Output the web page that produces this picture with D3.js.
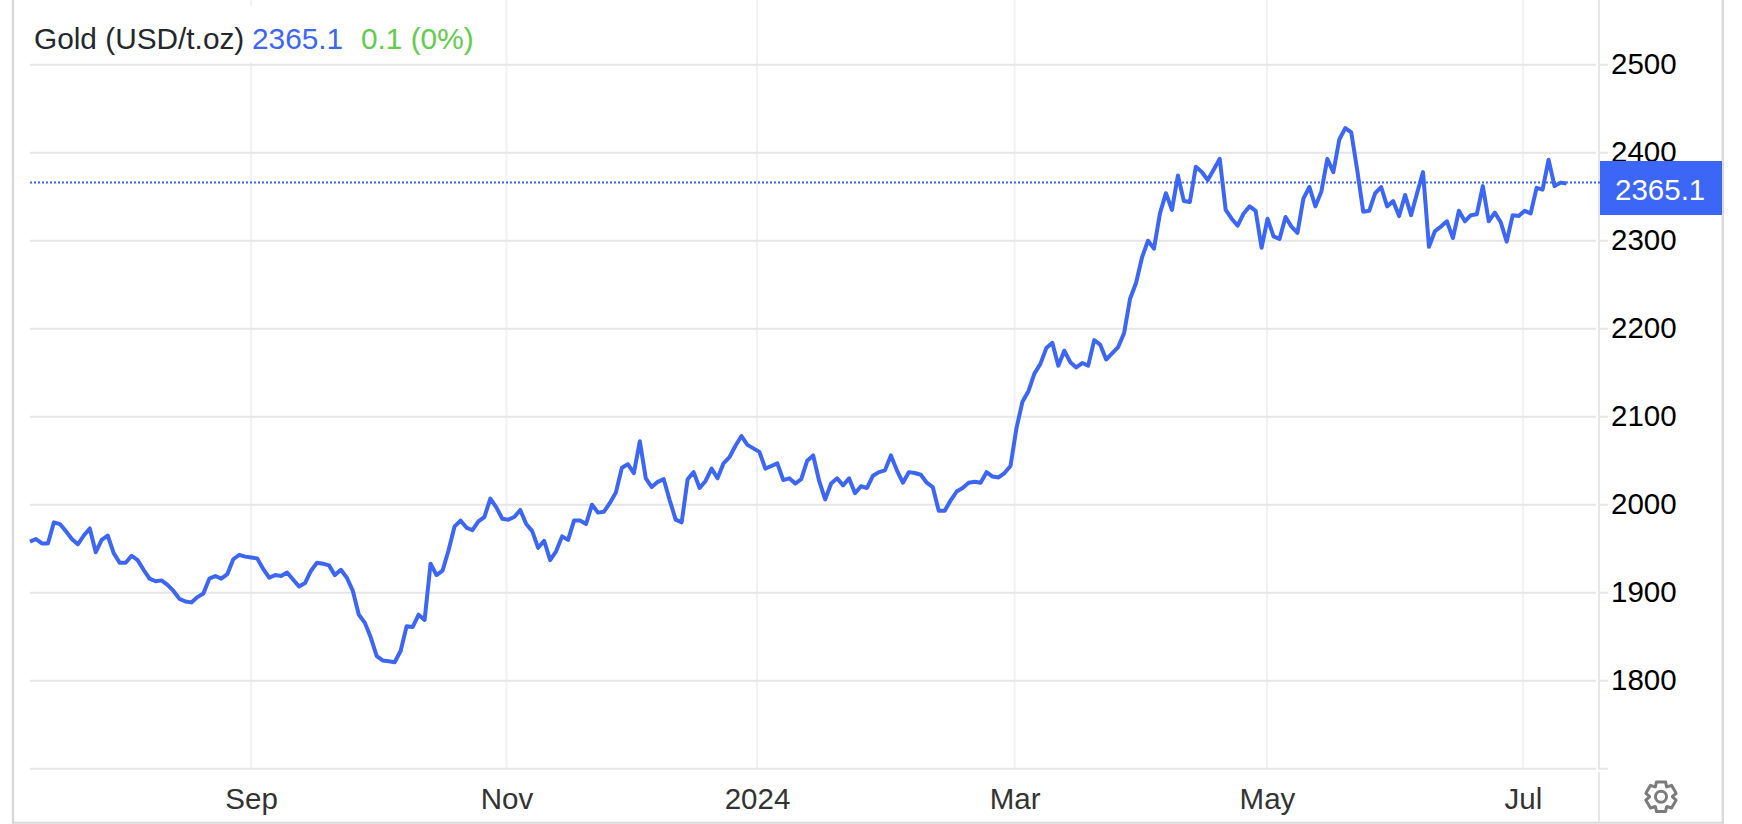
<!DOCTYPE html>
<html>
<head>
<meta charset="utf-8">
<script src="https://cdn.jsdelivr.net/npm/d3@7/dist/d3.min.js"></script>
<style>
html,body{margin:0;padding:0;background:#fff;overflow:hidden}
svg{display:block}
text{font-family:"Liberation Sans",Arial,sans-serif}
</style>
</head>
<body>
<svg id="chart" width="1742" height="824"></svg>
<script>
const prices = [
1958,1961,1956,1956,1980,1978,1970,1961,1955,1965,1973,1946,1960,1965,1945,1934,1934,1942,1937,1926,
1916,1913,1914,1909,1902,1893,1890,1889,1895,1899,1916,1919,1916,1921,1938,1943,1941,1940,1939,1927,
1917,1920,1919,1923,1915,1907,1911,1925,1934,1933,1931,1920,1926,1917,1902,1875,1866,1849,1828,1823,
1822,1821,1834,1862,1861,1875,1869,1933,1920,1925,1948,1975,1982,1974,1971,1981,1986,2007,1997,1984,
1983,1986,1994,1978,1970,1951,1959,1937,1947,1964,1960,1982,1982,1978,2000,1991,1992,2002,2014,2042,
2046,2036,2072,2030,2020,2026,2029,2005,1983,1980,2029,2037,2019,2027,2041,2030,2047,2054,2067,2078,
2068,2064,2060,2041,2044,2047,2028,2030,2024,2029,2050,2056,2027,2006,2024,2030,2022,2030,2013,2021,
2019,2033,2037,2039,2056,2039,2025,2037,2036,2034,2025,2020,1993,1993,2005,2015,2019,2025,2026,2025,
2037,2032,2031,2036,2044,2087,2117,2129,2149,2160,2178,2184,2158,2175,2162,2156,2161,2158,2187,2182,
2165,2172,2179,2195,2234,2252,2281,2300,2291,2331,2354,2335,2374,2345,2344,2384,2378,2369,2381,2393,
2335,2325,2317,2331,2339,2334,2292,2325,2305,2302,2327,2316,2309,2348,2361,2339,2356,2393,2378,2415,
2428,2423,2380,2333,2334,2354,2361,2339,2345,2328,2352,2329,2354,2378,2293,2311,2316,2322,2303,2334,
2322,2329,2330,2362,2322,2332,2321,2299,2329,2328,2334,2331,2360,2358,2392,2362,2366,2365.1
];
const yTicks = [1800,1900,2000,2100,2200,2300,2400,2500];
const monthLabels = ["Sep","Nov","2024","Mar","May","Jul"];
const monthPositions = [36.98,79.7,121.6,164.7,206.9,249.7];
const titleName = "Gold (USD/t.oz)";
const lastValue = 2365.1;
const lastChange = "0.1 (0%)";

const blue = "#3c66f6", green = "#62cc4c", gridH = "#e6e6e6", gridV = "#eff2f5", frame = "#d9d9d9";
const svg = d3.select("#chart");
const x = d3.scaleLinear().domain([0, prices.length - 1]).range([30, 1566.5]);
const y = d3.scaleLinear().domain([1700, 2500]).range([768.7, 64.7]);

// frame
svg.append("line").attr("x1",13).attr("x2",13).attr("y1",0).attr("y2",824).attr("stroke",frame).attr("stroke-width",2.4);
svg.append("line").attr("x1",1722.8).attr("x2",1722.8).attr("y1",0).attr("y2",824).attr("stroke",frame).attr("stroke-width",2.4);
svg.append("line").attr("x1",13).attr("x2",1723).attr("y1",822.8).attr("y2",822.8).attr("stroke",frame).attr("stroke-width",2);

// vertical gridlines + x labels
const xAxis = d3.axisBottom(x).tickValues(monthPositions)
  .tickFormat((d,i)=>monthLabels[i]).tickSize(0).tickPadding(0);
const gx = svg.append("g").attr("transform","translate(0,768.7)").call(xAxis);
gx.select(".domain").remove();
gx.selectAll("text").attr("y",40).attr("dy",0).attr("fill","#333").style("font-size","29.5px").style("font-family",'"Liberation Sans"');
svg.insert("g","g").selectAll("line").data(monthPositions).join("line")
  .attr("x1",d=>x(d)).attr("x2",d=>x(d)).attr("y1",0).attr("y2",768)
  .attr("stroke",gridV).attr("stroke-width",2);

// horizontal gridlines
const gridVals = [1700].concat(yTicks);
svg.append("g").selectAll("line").data(gridVals).join("line")
  .attr("x1",30).attr("x2",1596).attr("y1",d=>y(d)).attr("y2",d=>y(d))
  .attr("stroke",gridH).attr("stroke-width",2);
svg.append("g").selectAll("line").data(gridVals).join("line")
  .attr("x1",1599).attr("x2",1608).attr("y1",d=>y(d)).attr("y2",d=>y(d))
  .attr("stroke",gridH).attr("stroke-width",2);

// right axis line
svg.append("line").attr("x1",1599).attr("x2",1599).attr("y1",0).attr("y2",769.5).attr("stroke",gridH).attr("stroke-width",2);
svg.append("line").attr("x1",1599).attr("x2",1599).attr("y1",772).attr("y2",822).attr("stroke",gridH).attr("stroke-width",2);

// y labels
const yAxis = d3.axisRight(y).tickValues(yTicks).tickSize(0).tickPadding(0).tickFormat(d3.format("d"));
const gy = svg.append("g").attr("transform","translate(1611,0)").call(yAxis);
gy.select(".domain").remove();
gy.selectAll("text").attr("x",0).attr("dy","0.30em").attr("fill","#000").style("font-size","29.5px").style("font-family",'"Liberation Sans"');

// title background and text
svg.append("rect").attr("x",30).attr("y",6).attr("width",450).attr("height",56).attr("fill","#fff");
const title = svg.append("text").attr("y",49).style("font-size","29.8px");
title.append("tspan").attr("x",34).attr("fill","#24272b").text(titleName);
title.append("tspan").attr("x",252).attr("fill",blue).text(lastValue.toFixed(1));
title.append("tspan").attr("x",361).attr("fill",green).text(lastChange);

// dotted last-value line
svg.append("line").attr("x1",30).attr("x2",1600).attr("y1",182.5).attr("y2",182.5)
  .attr("stroke",blue).attr("stroke-width",2).attr("stroke-dasharray","2 2");

// price line
const line = d3.line().x((d,i)=>x(i)).y(d=>y(d));
svg.append("path").datum(prices).attr("d",line).attr("fill","none")
  .attr("stroke",blue).attr("stroke-width",4).attr("stroke-linejoin","round");

// last-value tag
svg.append("rect").attr("x",1600).attr("y",161).attr("width",122).attr("height",54).attr("fill",blue);
svg.append("text").attr("x",1615).attr("y",200).attr("fill","#fff").style("font-size","29.5px").text(lastValue.toFixed(1));

// gear
const cx = 1661, cy = 796.7, teeth = 6, rO = 15.5, rI = 11.5;
const gear = d3.path();
for (let i = 0; i < teeth; i++) {
  const a = i * 2 * Math.PI / teeth - Math.PI / 2, w = 0.30, g = 0.50;
  const p = [[rI,a-g],[rO,a-w],[rO,a+w],[rI,a+g]];
  p.forEach(([r,t],j)=>{
    const px = cx + r*Math.cos(t), py = cy + r*Math.sin(t);
    if (i===0 && j===0) gear.moveTo(px,py); else gear.lineTo(px,py);
  });
}
gear.closePath();
svg.append("path").attr("d",gear.toString()).attr("fill","none").attr("stroke","#7b7b7b").attr("stroke-width",3).attr("stroke-linejoin","round");
svg.append("circle").attr("cx",cx).attr("cy",cy).attr("r",5.5).attr("fill","none").attr("stroke","#7b7b7b").attr("stroke-width",3);
</script>
</body>
</html>
